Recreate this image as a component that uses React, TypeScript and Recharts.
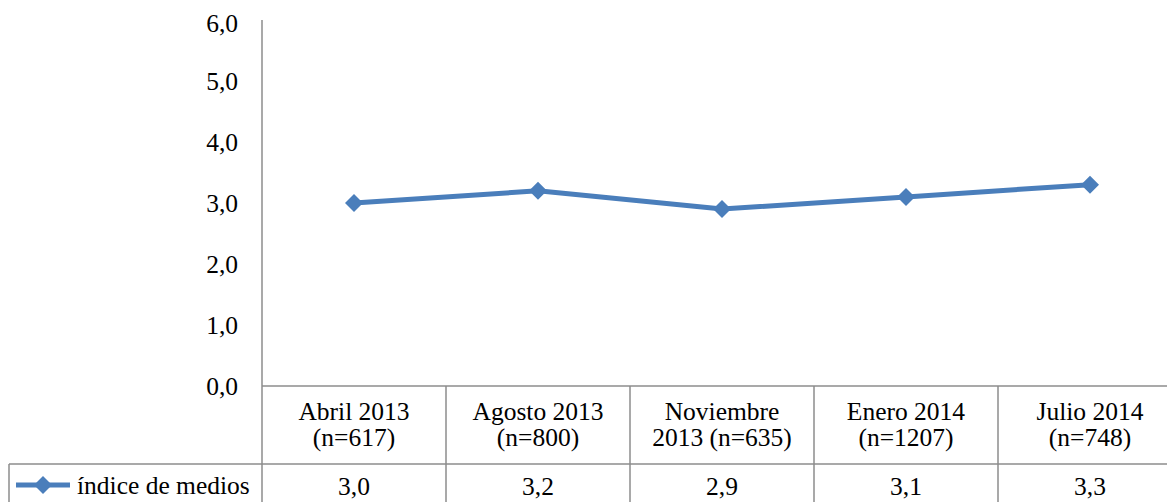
import React from 'react';
import { LineChart, Line, XAxis, YAxis } from 'recharts';

const periods = ['Abril 2013', 'Agosto 2013', 'Noviembre 2013', 'Enero 2014', 'Julio 2014'];
const periodLines = [
  ['Abril 2013', '(n=617)'],
  ['Agosto 2013', '(n=800)'],
  ['Noviembre', '2013 (n=635)'],
  ['Enero 2014', '(n=1207)'],
  ['Julio 2014', '(n=748)'],
];
const indiceMedios = [3.0, 3.2, 2.9, 3.1, 3.3];
const yTicks = [0, 1, 2, 3, 4, 5, 6];
const seriesName = 'índice de medios';

const data = periods.map((p, i) => ({ period: p, value: indiceMedios[i] }));

const BLUE = '#4a7ebb';
const GRID = '#8c8c8c';
const FONT = '"Liberation Serif", "Times New Roman", serif';
const FS = 25.5;
const fmt = (v: number) => v.toFixed(1).replace('.', ',');

const Diamond = (props: any) => {
  const { cx, cy } = props;
  if (cx == null || cy == null) return null;
  const r = 9;
  return (
    <polygon
      points={`${cx},${cy - r} ${cx + r},${cy} ${cx},${cy + r} ${cx - r},${cy}`}
      fill={BLUE}
    />
  );
};

// category labels + data table row drawn under the axis
const TableTick = (props: any) => {
  const { x, y, payload, width, visibleTicksCount } = props;
  const i = payload.index;
  const band = width / visibleTicksCount;
  const left = x - band / 2;
  const right = x + band / 2;
  const lines = periodLines[i];
  return (
    <g fontFamily={FONT} fontSize={FS} fill="#000">
      <line x1={right} y1={y} x2={right} y2={y + 130} stroke={GRID} strokeWidth={1.5} />
      {i === 0 && (
        <g>
          <line x1={left} y1={y} x2={left} y2={y + 130} stroke={GRID} strokeWidth={1.5} />
          <line x1={left - 253} y1={y + 78} x2={left + band * visibleTicksCount + 20} y2={y + 78} stroke={GRID} strokeWidth={1.5} />
          <line x1={left - 253} y1={y + 78} x2={left - 253} y2={y + 130} stroke={GRID} strokeWidth={1.5} />
          <line x1={left - 246} y1={y + 99} x2={left - 192} y2={y + 99} stroke={BLUE} strokeWidth={5} />
          <Diamond cx={left - 219} cy={y + 99} />
          <text x={left - 185} y={y + 99} dominantBaseline="central" fill="#000">{seriesName}</text>
        </g>
      )}
      <text x={x} y={y + 25} textAnchor="middle" dominantBaseline="central" fill="#000">{lines[0]}</text>
      <text x={x} y={y + 51} textAnchor="middle" dominantBaseline="central" fill="#000">{lines[1]}</text>
      <text x={x} y={y + 100} textAnchor="middle" dominantBaseline="central" fill="#000">{fmt(indiceMedios[i])}</text>
    </g>
  );
};

export default function App() {
  return (
    <div style={{ width: 1167, height: 494, overflow: 'hidden', position: 'relative' }}>
      <style>{'html,body{overflow:hidden}'}</style>
      <LineChart
        width={1180}
        height={510}
        data={data}
        margin={{ top: 12, right: 6, bottom: 0, left: 0 }}
      >
        <XAxis
          dataKey="period"
          scale="band"
          height={132}
          axisLine={{ stroke: GRID, strokeWidth: 1.5 }}
          tickLine={false}
          tickSize={0}
          tickMargin={0}
          tick={<TableTick />}
          interval={0}
        />
        <YAxis
          width={254}
          domain={[0, 6]}
          ticks={yTicks}
          tickFormatter={fmt}
          axisLine={{ stroke: GRID, strokeWidth: 1.5 }}
          tickLine={false}
          tickMargin={18}
          tick={{ fontFamily: FONT, fontSize: FS, fill: '#000' }}
        />
        <Line
          dataKey="value"
          stroke={BLUE}
          strokeWidth={5}
          dot={<Diamond />}
          activeDot={false}
          isAnimationActive={false}
        />
      </LineChart>
    </div>
  );
}
